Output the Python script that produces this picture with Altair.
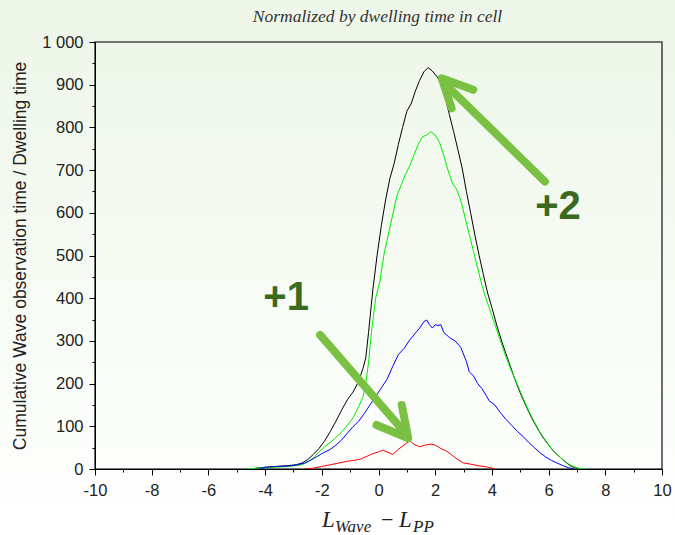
import altair as alt
import pandas as pd

# ---- data ----
black_x = [-4.5, -4.3, -4.0, -3.6, -3.2, -2.9, -2.7, -2.5, -2.3, -2.1, -1.9, -1.7, -1.5, -1.3, -1.1, -0.9, -0.7, -0.55, -0.45, -0.35, -0.2, -0.05, 0.1, 0.25, 0.4, 0.55, 0.7, 0.85, 1.0, 1.15, 1.3, 1.45, 1.6, 1.75, 1.9, 2.05, 2.2, 2.35, 2.5, 2.65, 2.8, 2.95, 3.1, 3.25, 3.4, 3.55, 3.7, 3.85, 4.0, 4.2, 4.4, 4.6, 4.8, 5.0, 5.2, 5.4, 5.6, 5.8, 6.0, 6.2, 6.4, 6.6, 6.8, 7.0, 7.1]
black_y = [0, 2, 4, 6, 8, 10, 14, 22, 34, 48, 66, 88, 112, 138, 162, 180, 205, 235, 260, 320, 420, 500, 570, 630, 680, 715, 760, 800, 838, 855, 885, 910, 930, 940, 932, 920, 905, 870, 830, 790, 748, 705, 650, 600, 548, 500, 455, 412, 378, 330, 288, 250, 212, 178, 148, 120, 96, 74, 56, 40, 28, 16, 6, 2, 0]

green_x = [-4.6, -4.3, -4.0, -3.6, -3.2, -2.9, -2.7, -2.5, -2.3, -2.1, -1.9, -1.7, -1.5, -1.3, -1.1, -0.9, -0.7, -0.55, -0.45, -0.35, -0.25, -0.1, 0.05, 0.2, 0.35, 0.5, 0.65, 0.8, 0.95, 1.1, 1.25, 1.4, 1.55, 1.7, 1.85, 2.0, 2.15, 2.3, 2.45, 2.6, 2.75, 2.9, 3.05, 3.2, 3.35, 3.5, 3.65, 3.8, 3.95, 4.1, 4.3, 4.5, 4.7, 4.9, 5.1, 5.3, 5.5, 5.7, 5.9, 6.1, 6.3, 6.5, 6.7, 6.9, 7.1, 7.3]
green_y = [0, 2, 3, 4, 6, 8, 10, 16, 26, 40, 52, 62, 74, 86, 102, 120, 146, 168, 200, 250, 320, 400, 440, 505, 550, 595, 640, 665, 690, 710, 735, 760, 778, 782, 790, 782, 765, 735, 700, 670, 655, 630, 590, 550, 510, 470, 430, 398, 368, 340, 300, 262, 228, 198, 166, 136, 110, 86, 66, 48, 34, 22, 12, 5, 1, 0]

blue_x = [-4.2, -4.0, -3.6, -3.2, -2.9, -2.6, -2.3, -2.0, -1.7, -1.5, -1.3, -1.1, -0.9, -0.7, -0.5, -0.3, -0.1, 0.1, 0.3, 0.5, 0.7, 0.9, 1.1, 1.3, 1.45, 1.6, 1.7, 1.8, 1.9, 2.0, 2.1, 2.2, 2.3, 2.5, 2.7, 2.9, 3.1, 3.2, 3.35, 3.5, 3.65, 3.8, 3.9, 4.1, 4.3, 4.5, 4.7, 4.9, 5.1, 5.3, 5.5, 5.7, 5.9, 6.1, 6.3, 6.5, 6.7, 6.9]
blue_y = [0, 4, 6, 7, 9, 14, 24, 36, 46, 56, 68, 84, 99, 112, 130, 150, 170, 190, 210, 240, 268, 282, 302, 318, 330, 345, 349, 338, 330, 338, 336, 338, 320, 308, 300, 285, 252, 228, 218, 200, 188, 172, 160, 150, 132, 116, 102, 88, 76, 62, 50, 38, 28, 20, 14, 8, 3, 0]

red_x = [-2.6, -2.3, -2.0, -1.7, -1.4, -1.1, -0.8, -0.6, -0.4, -0.2, 0.0, 0.15, 0.3, 0.5, 0.7, 0.9, 1.1, 1.25, 1.45, 1.65, 1.85, 2.0, 2.2, 2.4, 2.6, 2.8, 3.0, 3.2, 3.5, 3.8, 4.0, 4.1]
red_y = [0, 2, 6, 10, 14, 18, 21, 24, 30, 36, 40, 44, 40, 34, 46, 56, 66, 58, 52, 56, 58, 56, 48, 42, 32, 22, 14, 12, 8, 5, 2, 0]

series_names = ["black", "green", "blue", "red"]
series_colors = ["#000000", "#00ee00", "#0000ff", "#ff0000"]

x_ticks = [-10, -8, -6, -4, -2, 0, 2, 4, 6, 8, 10]
x_minor = [-9, -7, -5, -3, -1, 1, 3, 5, 7, 9]
y_ticks = [0, 100, 200, 300, 400, 500, 600, 700, 800, 900, 1000]
y_minor = [50, 150, 250, 350, 450, 550, 650, 750, 850, 950]

# annotation arrows (data units): id, x, y
arrow_id = ["a1s", "a1s", "a1h", "a1h", "a1h", "a2s", "a2s", "a2h", "a2h", "a2h"]
arrow_x = [-2.06, 1.0, -0.07, 1.05, 0.82, 5.87, 2.3, 2.58, 2.23, 3.34]
arrow_y = [314, 80, 103, 72, 150, 673, 905, 845, 915, 888]

label_text = ["+1", "+2"]
label_x = [-3.26, 6.33]
label_y = [400, 614]

title_text = "Normalized by dwelling time in cell"
y_title = "Cumulative Wave observation time / Dwelling time"

W, H = 567, 427
PL, PT = 95, 42

rows = []
for name, xs_, ys_ in [("black", black_x, black_y), ("green", green_x, green_y),
                       ("blue", blue_x, blue_y), ("red", red_x, red_y)]:
    for i, (x, y) in enumerate(zip(xs_, ys_)):
        rows.append({"series": name, "x": x, "y": y, "i": i})
df = pd.DataFrame(rows)

adf = pd.DataFrame({"id": arrow_id, "x": arrow_x, "y": arrow_y, "o": list(range(len(arrow_x)))})
ldf = pd.DataFrame({"t": label_text, "x": label_x, "y": label_y})

xs = alt.Scale(domain=[-10, 10], nice=False, zero=False)
ys = alt.Scale(domain=[0, 1000], nice=False, zero=False)

LF = "Liberation Sans"
LFS = 16.5
one = pd.DataFrame({"a": [0]})

bg = alt.Chart(one).mark_rect(
    color={"gradient": "linear", "x1": 0, "y1": 0, "x2": 0, "y2": 1,
           "stops": [{"offset": 0, "color": "#edf6e8"}, {"offset": 0.75, "color": "#fafdf9"}, {"offset": 1, "color": "#ffffff"}]}
).encode(x=alt.value(-PL), x2=alt.value(675 - PL), y=alt.value(-PT), y2=alt.value(535 - PT))

frame = alt.Chart(one).mark_rect(fillOpacity=0, stroke="#4a4a4a", strokeWidth=1.6).encode(
    x=alt.value(0), x2=alt.value(W), y=alt.value(0), y2=alt.value(H))

lines = alt.Chart(df).mark_line(strokeWidth=1).encode(
    x=alt.X("x:Q", scale=xs, axis=alt.Axis(
        values=x_ticks, tickSize=6, labelFont=LF, labelFontSize=LFS, labelColor="#222",
        labelPadding=7, domainColor="#000", tickColor="#000", grid=False, title=None, zindex=2,
        labelExpr="datum.value < 0 ? '-' + toString(abs(datum.value)) : toString(datum.value)",
        labelFlush=False, orient="bottom")),
    y=alt.Y("y:Q", scale=ys, axis=alt.Axis(
        values=y_ticks, tickSize=6, labelFont=LF, labelFontSize=LFS, labelColor="#222",
        labelPadding=6, domainColor="#000", tickColor="#000", grid=False, zindex=2,
        labelExpr="replace(format(datum.value, ','), ',', ' ')", labelFlush=False,
        title=y_title, titleFont=LF, titleFontSize=17.5, titleFontWeight="normal", titleColor="#222",
        titleAngle=270, titleX=-75, titleY=H / 2, titleAlign="center", titleBaseline="middle",
        orient="left")),
    color=alt.Color("series:N", scale=alt.Scale(domain=series_names, range=series_colors), legend=None),
    order=alt.Order("i:Q"),
)

minor = alt.Chart(df).mark_point(opacity=0).encode(
    x=alt.X("x:Q", scale=xs, axis=alt.Axis(values=x_minor, tickSize=3, labels=False, domain=False,
                                           tickColor="#000", grid=False, title=None, orient="bottom", zindex=2)),
    y=alt.Y("y:Q", scale=ys, axis=alt.Axis(values=y_minor, tickSize=3, labels=False, domain=False,
                                           tickColor="#000", grid=False, title=None, orient="left", zindex=2)),
)

arrows = alt.Chart(adf).mark_line(strokeWidth=8, strokeCap="round", strokeJoin="round", color="#79c043").encode(
    x=alt.X("x:Q", scale=xs, axis=None),
    y=alt.Y("y:Q", scale=ys, axis=None),
    detail="id:N",
    order=alt.Order("o:Q"),
)

labels = alt.Chart(ldf).mark_text(font=LF, fontSize=40, fontWeight="bold", color="#3b6a1f").encode(
    x=alt.X("x:Q", scale=xs, axis=None),
    y=alt.Y("y:Q", scale=ys, axis=None),
    text="t:N",
)

title = alt.Chart(one).mark_text(text=title_text, font="Liberation Serif", fontStyle="italic",
                                 fontSize=17.5, color="#333", baseline="alphabetic").encode(
    x=alt.value(W / 2 - 1), y=alt.value(-20))

SER = "Liberation Serif"
xt1 = alt.Chart(one).mark_text(text="L", font=SER, fontStyle="italic", fontSize=23, align="left",
                               baseline="alphabetic", color="#222").encode(x=alt.value(227), y=alt.value(485))
xt2 = alt.Chart(one).mark_text(text="Wave", font=SER, fontStyle="italic", fontSize=17, align="left",
                               baseline="alphabetic", color="#222").encode(x=alt.value(240), y=alt.value(490))
xt3 = alt.Chart(one).mark_text(text="\u2212", font=SER, fontSize=22, align="left",
                               baseline="alphabetic", color="#222").encode(x=alt.value(286), y=alt.value(485))
xt4 = alt.Chart(one).mark_text(text="L", font=SER, fontStyle="italic", fontSize=23, align="left",
                               baseline="alphabetic", color="#222").encode(x=alt.value(304), y=alt.value(485))
xt5 = alt.Chart(one).mark_text(text="PP", font=SER, fontStyle="italic", fontSize=17, align="left",
                               baseline="alphabetic", color="#222").encode(x=alt.value(318), y=alt.value(490))

chart = alt.layer(bg, frame, minor, lines, arrows, labels, title, xt1, xt2, xt3, xt4, xt5).resolve_axis(
    x="independent", y="independent"
).properties(
    width=W, height=H,
    padding={"left": PL, "top": PT, "right": 675 - PL - W, "bottom": 535 - PT - H},
    autosize=alt.AutoSizeParams(type="none"),
    background="#ffffff",
).configure_view(stroke=None)

chart.save("out.html", embed_options={"renderer": "svg", "actions": False})
